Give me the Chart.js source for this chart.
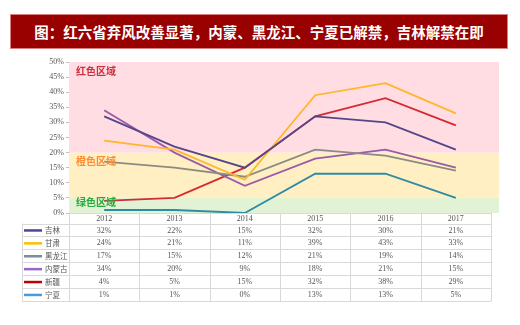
<!DOCTYPE html>
<html>
<head>
<meta charset="utf-8">
<script src="https://cdn.jsdelivr.net/npm/chart.js@4"></script>
<style>
  body { margin: 0; background: #fff; }
  #wrap { position: relative; width: 520px; height: 325px; }
  #title {
    position: absolute; left: 10px; top: 14px; width: 496px; height: 33px;
    background: #990000; border: 1px solid #d98080;
    color: #fff; font: bold 14.5px "Noto Sans CJK SC", sans-serif;
    line-height: 33px; text-align: center;
  }
  canvas { position: absolute; left: 0; top: 0; }
</style>
</head>
<body>
<div id="wrap">
  <canvas id="chart" width="520" height="325"></canvas>
  <div id="title">图：红六省弃风改善显著，内蒙、黑龙江、宁夏已解禁，吉林解禁在即</div>
</div>
<script>
// данные
const years = ['2012', '2013', '2014', '2015', '2016', '2017'];
const provinces = ['吉林', '甘肃', '黑龙江', '内蒙古', '新疆', '宁夏'];
const jilin = [32, 22, 15, 32, 30, 21];
const gansu = [24, 21, 11, 39, 43, 33];
const heilongjiang = [17, 15, 12, 21, 19, 14];
const neimenggu = [34, 20, 9, 18, 21, 15];
const xinjiang = [4, 5, 15, 32, 38, 29];
const ningxia = [1, 1, 0, 13, 13, 5];
const yTicks = [0, 5, 10, 15, 20, 25, 30, 35, 40, 45, 50];

const zoneNames = ['绿色区域', '橙色区域', '红色区域'];
const zoneBounds = [0, 5, 20, 50];

const series = [jilin, gansu, heilongjiang, neimenggu, xinjiang, ningxia];
const lineColors = ['#54468a', '#ffb628', '#8a8c84', '#9a5aa8', '#d42a36', '#2f8aa4'];
const keyColors = ['#4f4596', '#ffc000', '#7f8c9e', '#9966cc', '#c00000', '#4a9bdc'];
const zoneFill = ['#e2f2d4', '#ffefc2', '#ffdde2'];
const zoneText = ['#2aaa3c', '#ff8a30', '#cc3040'];

// фон зон и подписи
const zones = {
  id: 'zones',
  beforeDatasetsDraw(chart) {
    const {ctx, chartArea: a, scales: {y}} = chart;
    ctx.save();
    for (let i = 0; i < 3; i++) {
      const top = y.getPixelForValue(zoneBounds[i + 1]);
      const bot = y.getPixelForValue(zoneBounds[i]);
      ctx.fillStyle = zoneFill[i];
      ctx.fillRect(a.left, top, a.right - a.left + 8, bot - top);
    }
    ctx.restore();
  },
  afterDatasetsDraw(chart) {
    const {ctx, chartArea: a, scales: {y}} = chart;
    ctx.save();
    ctx.font = 'bold 10px "Noto Sans CJK SC"';
    ctx.textBaseline = 'top';
    for (let i = 0; i < 3; i++) {
      ctx.fillStyle = zoneText[i];
      const top = y.getPixelForValue(zoneBounds[i + 1]);
      ctx.fillText(zoneNames[i], a.left + 7, top + (i == 0 ? -1 : 4));
    }
    ctx.restore();
  }
};

// таблица данных под графиком
const table = {
  id: 'table',
  afterDraw(chart) {
    const {ctx, chartArea: a, scales: {x}} = chart;
    const step = x.getPixelForValue(1) - x.getPixelForValue(0);
    const left0 = 22;
    const colLeft = x.getPixelForValue(0) - step / 2;
    const right = colLeft + step * years.length;
    const top = a.bottom;
    const headH = 10.5;
    const rowH = 12.9;
    ctx.save();
    ctx.strokeStyle = '#d9d9d9';
    ctx.lineWidth = 1;
    // горизонтальные
    ctx.beginPath();
    ctx.moveTo(colLeft, top + 0.5); ctx.lineTo(right, top + 0.5);
    for (let r = 0; r <= provinces.length; r++) {
      const yy = Math.round(top + headH + r * rowH) + 0.5;
      ctx.moveTo(left0, yy); ctx.lineTo(right, yy);
    }
    // вертикальные
    const bottom = Math.round(top + headH + provinces.length * rowH) + 0.5;
    ctx.moveTo(left0 + 0.5, top + headH); ctx.lineTo(left0 + 0.5, bottom);
    for (let c = 0; c <= years.length; c++) {
      const xx = Math.round(colLeft + c * step) + 0.5;
      ctx.moveTo(xx, top); ctx.lineTo(xx, bottom);
    }
    ctx.stroke();

    ctx.fillStyle = '#555';
    ctx.font = '8px "Liberation Serif"';
    ctx.textAlign = 'center';
    ctx.textBaseline = 'middle';
    years.forEach((yr, c) => ctx.fillText(yr, x.getPixelForValue(c), top + headH / 2 + 0.5));
    series.forEach((vals, r) => {
      const cy = top + headH + r * rowH + rowH / 2 + 0.5;
      vals.forEach((v, c) => ctx.fillText(v + '%', x.getPixelForValue(c), cy));
      ctx.strokeStyle = keyColors[r];
      ctx.lineWidth = 2.5;
      ctx.beginPath();
      ctx.moveTo(left0 + 2, cy); ctx.lineTo(left0 + 20, cy);
      ctx.stroke();
    });
    ctx.textAlign = 'left';
    ctx.font = '7.5px "Noto Sans CJK SC"';
    provinces.forEach((p, r) => {
      const cy = top + headH + r * rowH + rowH / 2 + 0.5;
      ctx.fillText(p, left0 + 23, cy);
    });
    ctx.restore();
  }
};

new Chart(document.getElementById('chart'), {
  type: 'line',
  data: {
    labels: years,
    datasets: series.map((vals, i) => ({
      label: provinces[i],
      data: vals,
      borderColor: lineColors[i],
      borderWidth: 1.8,
      pointRadius: 0,
      tension: 0,
      fill: false
    }))
  },
  options: {
    responsive: false,
    animation: false,
    layout: { padding: { top: 62, bottom: 112, left: 0, right: 29 } },
    plugins: { legend: { display: false }, tooltip: { enabled: false } },
    scales: {
      x: { display: false, offset: true },
      y: {
        min: 0, max: 50,
        afterFit: s => { s.width = 69; },
        afterBuildTicks: s => { s.ticks = yTicks.map(v => ({value: v})); },
        grid: { drawOnChartArea: false, drawTicks: true, tickLength: 3, color: '#bfbfbf' },
        border: { display: true, color: '#d0d0d0' },
        ticks: {
          padding: 2,
          color: '#595959',
          font: { family: 'Liberation Serif', size: 8 },
          callback: v => v + '%'
        }
      }
    }
  },
  plugins: [zones, table]
});
</script>
</body>
</html>
